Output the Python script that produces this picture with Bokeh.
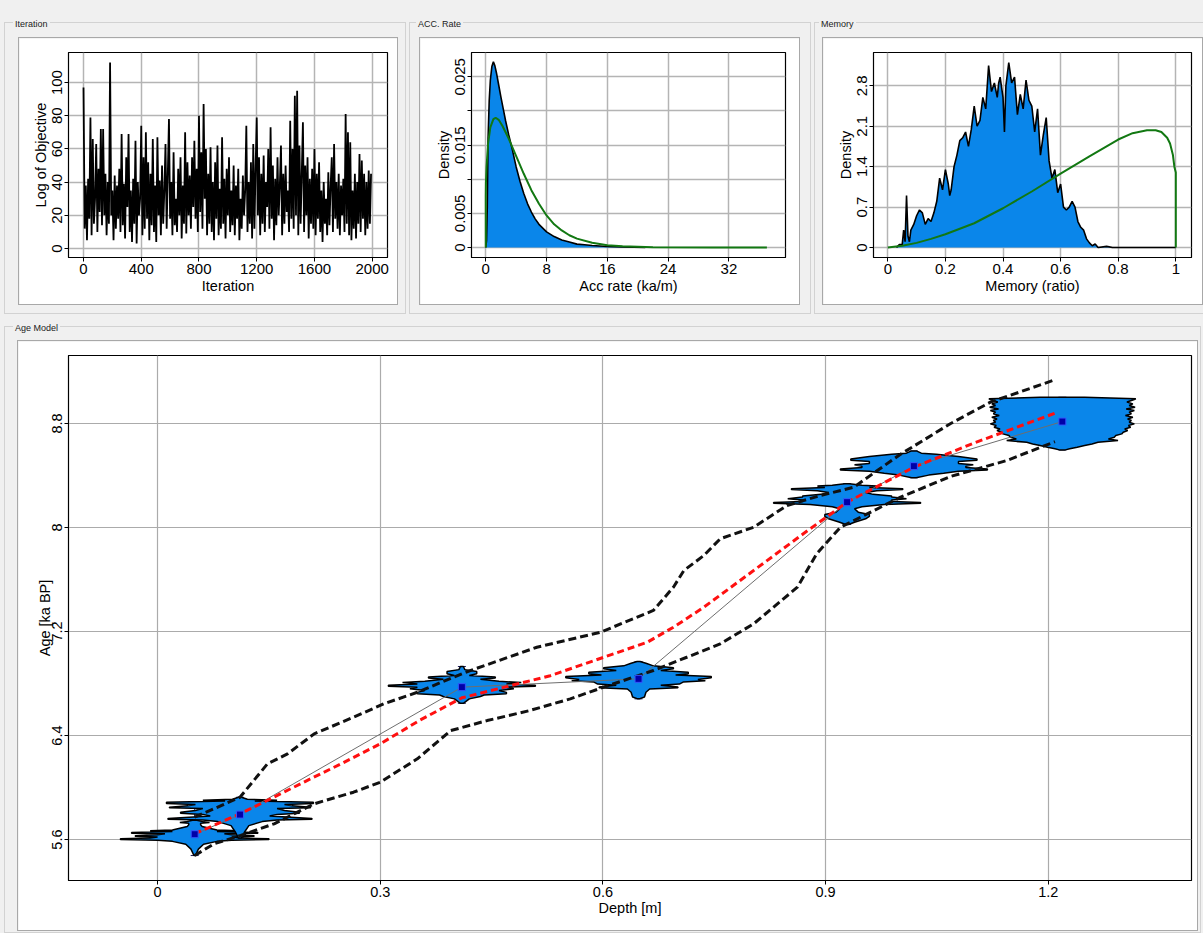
from bokeh.plotting import figure
from bokeh.layouts import column, row
from bokeh.models import (ColumnDataSource, Div, FixedTicker, Whisker, TeeHead,
                          GlobalInlineStyleSheet)
from bokeh.embed import file_html
from bokeh.resources import INLINE

# ---- Iteration trace (log of objective), one value per 8 iterations ----
iter_x = list(range(0, 2000, 8))
iter_y = [
    97, 12, 38, 5, 42, 18, 79, 8, 66, 15,
    30, 63, 10, 48, 22, 72, 14, 72, 20, 45,
    8, 40, 15, 112, 20, 35, 5, 44, 12, 38,
    18, 48, 10, 69, 14, 39, 6, 55, 25, 69,
    10, 35, 4, 42, 15, 65, 3, 40, 20, 30,
    74, 8, 55, 12, 70, 18, 52, 5, 45, 14,
    66, 10, 38, 4, 67, 20, 41, 8, 50, 15,
    35, 63, 12, 45, 78, 18, 40, 8, 58, 14,
    30, 10, 48, 20, 55, 6, 38, 15, 70, 9,
    52, 20, 44, 12, 55, 25, 65, 18, 48, 10,
    80, 22, 58, 12, 87, 30, 60, 8, 45, 15,
    61, 10, 40, 5, 52, 18, 62, 8, 36, 12,
    67, 15, 42, 6, 48, 20, 55, 10, 35, 14,
    50, 8, 38, 18, 48, 5, 30, 12, 44, 20,
    35, 74, 10, 40, 15, 52, 6, 63, 12, 48,
    79, 20, 55, 8, 45, 15, 56, 10, 40, 25,
    60, 12, 73, 18, 50, 5, 42, 14, 55, 20,
    38, 62, 8, 45, 15, 50, 22, 35, 10, 77,
    18, 60, 12, 92, 20, 95, 8, 62, 15, 45,
    76, 10, 50, 20, 55, 6, 42, 15, 48, 12,
    60, 8, 45, 18, 52, 10, 35, 4, 40, 15,
    30, 8, 46, 14, 38, 55, 10, 63, 18, 40,
    12, 45, 8, 38, 20, 42, 10, 81, 15, 70,
    8, 64, 5, 35, 12, 45, 6, 40, 15, 57,
    10, 53, 18, 45, 8, 40, 12, 47, 15, 45,
]
iter_xticks = [0, 400, 800, 1200, 1600, 2000]
iter_yticks = [0, 20, 40, 60, 80, 100]

# ---- Accumulation rate: posterior histogram and prior ----
acc_x = [0, 0.1, 0.2, 0.3, 0.45, 0.6, 0.8, 1.0, 1.2, 1.4, 1.7, 2.0, 2.3, 2.6, 3.0,
         3.5, 4.0, 4.5, 5.0, 5.5, 6.0, 6.5, 7.0, 8.0, 9.0, 10.0, 11.0, 12.0,
         13.0, 14.0, 16.0, 18.0, 21.0]
acc_d = [0, 0.001, 0.006, 0.016, 0.0215, 0.0245, 0.0265, 0.0272, 0.0266, 0.0256,
         0.0238, 0.0220, 0.0203, 0.0186, 0.0166, 0.0143, 0.0118, 0.0097, 0.0079,
         0.0064, 0.0052, 0.0042, 0.0034, 0.0023, 0.0016, 0.0011, 0.0008, 0.0005,
         0.0004, 0.0003, 0.00015, 0.00008, 0.00003]
acc_prior_x = [0, 0, 0.02, 0.1, 0.3, 0.6, 1.0, 1.3, 1.7, 2.2, 3.0, 4.0, 5.0, 6.0,
               7.0, 8.0, 9.0, 10.0, 11.0, 12.0, 14.0, 16.0, 18.0, 22.0, 30.0, 37.0]
acc_prior_d = [0, 0.0075, 0.0095, 0.0118, 0.0152, 0.0176, 0.0188, 0.0190, 0.0187,
               0.0178, 0.0160, 0.0134, 0.0108, 0.0084, 0.0064, 0.0047, 0.0034,
               0.0025, 0.0018, 0.0013, 0.0007, 0.00035, 0.00018, 0.00005,
               0.00001, 0]
acc_xticks = [0, 8, 16, 24, 32]
acc_yticks = [0, 0.005, 0.01, 0.015, 0.02, 0.025]
acc_ylabels = ["0", "0.005", "", "0.015", "", "0.025"]

# ---- Memory: posterior histogram and prior ----
mem_x = [0.03, 0.04, 0.05, 0.055, 0.06, 0.065, 0.07, 0.075, 0.08, 0.09, 0.10, 0.11,
         0.12, 0.13, 0.14, 0.15, 0.16, 0.17, 0.18, 0.19, 0.20, 0.21, 0.215, 0.22,
         0.23, 0.24, 0.25, 0.26, 0.27, 0.28, 0.29, 0.30, 0.31, 0.32, 0.33, 0.34,
         0.35, 0.36, 0.37, 0.38, 0.385, 0.39, 0.40, 0.405, 0.41, 0.42, 0.43, 0.44,
         0.45, 0.46, 0.47, 0.48, 0.49, 0.50, 0.51, 0.52, 0.53, 0.54, 0.55, 0.56,
         0.57, 0.58, 0.59, 0.60, 0.61, 0.62, 0.63, 0.64, 0.65, 0.66, 0.67, 0.68,
         0.69, 0.70, 0.71, 0.72, 0.73, 0.76, 0.78, 1.0]
mem_d = [0, 0.05, 0.05, 0.3, 0.1, 0.9, 0.2, 0.1, 0.3, 0.4, 0.55, 0.65,
         0.6, 0.4, 0.5, 0.45, 0.6, 0.8, 1.2, 1.0, 1.35, 1.1, 0.9, 1.0,
         1.4, 1.6, 1.85, 1.9, 2.0, 1.75, 2.05, 2.45, 2.1, 2.2, 2.6, 2.4,
         3.15, 2.7, 2.85, 2.6, 2.85, 2.95, 2.6, 2.0, 2.8, 3.2, 2.85, 2.95,
         2.3, 2.65, 2.4, 2.9, 2.55, 2.45, 2.0, 2.4, 1.6, 1.95, 2.25, 1.5,
         1.2, 1.35, 0.95, 1.1, 0.7, 0.65, 0.7, 0.8, 0.7, 0.45, 0.35, 0.3,
         0.15, 0.08, 0.03, 0.06, 0.0, 0.02, 0, 0]
mem_prior_x = [0, 0.05, 0.1, 0.15, 0.2, 0.3, 0.4, 0.5, 0.6, 0.7, 0.8, 0.85, 0.9,
               0.93, 0.95, 0.97, 0.98, 0.99, 0.995, 1.0, 1.0]
mem_prior_d = [0, 0.03, 0.08, 0.15, 0.23, 0.42, 0.68, 0.97, 1.28, 1.58, 1.87, 1.98,
               2.03, 2.03, 2.0, 1.9, 1.8, 1.6, 1.4, 1.3, 0]
mem_xticks = [0, 0.2, 0.4, 0.6, 0.8, 1]
mem_xlabels = ["0", "0.2", "0.4", "0.6", "0.8", "1"]
mem_yticks = [0, 0.7, 1.4, 2.1, 2.8]
mem_ylabels = ["0", "0.7", "1.4", "2.1", "2.8"]

# ---- Age model ----
sample_depth = [0.050, 0.111, 0.410, 0.648, 0.929, 1.019, 1.219]
sample_age = [5.641, 5.792, 6.772, 6.836, 8.195, 8.472, 8.815]
err_top = [5.846, 5.925, 6.931, 6.969, 8.337, 8.588, 9.002]
err_bottom = [5.477, 5.612, 6.648, 6.682, 8.023, 8.383, 8.597]

# calibrated age densities: age offset from the sample age, half width in metres
violin_dy = [
    [0.108, 0.095, 0.090, 0.084, 0.072, 0.060, 0.046, 0.032, 0.026, 0.020, 0.013,
     0.008, 0.003, -0.005, -0.012, -0.016, -0.022, -0.030, -0.035, -0.041, -0.046,
     -0.055, -0.077, -0.115, -0.164],
    [0.133, 0.118, 0.110, 0.104, 0.095, 0.085, 0.078, 0.067, 0.057, 0.052, 0.046,
     0.031, 0.018, 0.010, 0.000, -0.010, -0.030, -0.036, -0.042, -0.054, -0.085,
     -0.136, -0.180],
    [0.159, 0.135, 0.120, 0.103, 0.090, 0.078, 0.070, 0.060, 0.045, 0.035, 0.025,
     0.014, 0.008, 0.000, -0.012, -0.025, -0.040, -0.050, -0.060, -0.072, -0.090,
     -0.124],
    [0.133, 0.120, 0.100, 0.085, 0.077, 0.065, 0.050, 0.040, 0.030, 0.018, 0.008,
     -0.005, -0.015, -0.025, -0.040, -0.050, -0.062, -0.069, -0.078, -0.103,
     -0.140, -0.154],
    [0.142, 0.130, 0.124, 0.112, 0.103, 0.097, 0.088, 0.075, 0.060, 0.048, 0.040,
     0.026, 0.016, 0.006, -0.002, -0.008, -0.018, -0.035, -0.051, -0.077, -0.095,
     -0.110, -0.128, -0.154, -0.172],
    [0.116, 0.100, 0.091, 0.075, 0.055, 0.046, 0.035, 0.020, 0.010, 0.000, -0.010,
     -0.022, -0.030, -0.040, -0.055, -0.069, -0.089],
    [0.187, 0.175, 0.167, 0.150, 0.136, 0.123, 0.110, 0.097, 0.085, 0.072,
     0.059, 0.046, 0.033, 0.020, 0.008, -0.005, -0.018, -0.031, -0.044, -0.057,
     -0.069, -0.082, -0.095, -0.108, -0.121, -0.134, -0.146, -0.160, -0.172,
     -0.185, -0.198, -0.210, -0.218],
]
violin_hw = [
    [0.003, 0.012, 0.020, 0.008, 0.008, 0.010, 0.020, 0.030, 0.060, 0.030, 0.085,
     0.085, 0.040, 0.050, 0.080, 0.080, 0.050, 0.060, 0.100, 0.100, 0.050,
     0.030, 0.012, 0.005, 0.001],
    [0.002, 0.010, 0.050, 0.020, 0.099, 0.099, 0.060, 0.070, 0.095, 0.095, 0.050,
     0.060, 0.080, 0.080, 0.050, 0.040, 0.097, 0.097, 0.050, 0.030, 0.012,
     0.006, 0.002],
    [0.002, 0.004, 0.020, 0.020, 0.010, 0.045, 0.045, 0.025, 0.050, 0.080, 0.060,
     0.099, 0.099, 0.060, 0.070, 0.050, 0.060, 0.060, 0.030, 0.025, 0.010,
     0.002],
    [0.002, 0.010, 0.020, 0.047, 0.047, 0.030, 0.067, 0.067, 0.050, 0.098, 0.098,
     0.080, 0.090, 0.060, 0.055, 0.030, 0.053, 0.053, 0.015, 0.010, 0.008,
     0.001],
    [0.003, 0.020, 0.040, 0.030, 0.075, 0.075, 0.040, 0.025, 0.035, 0.060, 0.060,
     0.080, 0.060, 0.060, 0.099, 0.099, 0.050, 0.020, 0.010, 0.015, 0.030,
     0.030, 0.025, 0.010, 0.002],
    [0.004, 0.010, 0.030, 0.060, 0.085, 0.085, 0.060, 0.060, 0.080, 0.070, 0.070,
     0.099, 0.099, 0.060, 0.040, 0.020, 0.003],
    [0.030, 0.099, 0.096, 0.087, 0.095, 0.090, 0.098, 0.086, 0.097, 0.090,
     0.093, 0.085, 0.095, 0.088, 0.093, 0.090, 0.097, 0.089, 0.092, 0.084,
     0.088, 0.082, 0.080, 0.072, 0.070, 0.062, 0.075, 0.048, 0.040, 0.030,
     0.020, 0.010, 0.004],
]

median_depth = [0.050, 0.111, 0.143, 0.200, 0.250, 0.300, 0.354, 0.410, 0.480, 0.529,
                0.601, 0.660, 0.695, 0.736, 0.803, 0.870, 0.929, 1.019, 1.100, 1.209]
median_age = [5.644, 5.798, 5.887, 6.050, 6.190, 6.336, 6.520, 6.690, 6.790, 6.860,
              7.002, 7.118, 7.233, 7.387, 7.669, 7.952, 8.195, 8.464, 8.650, 8.879]
upper_depth = [0.050, 0.111, 0.148, 0.175, 0.211, 0.264, 0.305, 0.350, 0.415, 0.511,
               0.597, 0.668, 0.695, 0.709, 0.736, 0.758, 0.803, 0.848, 0.893, 0.938,
               1.000, 1.068, 1.122, 1.209]
upper_age = [5.772, 5.925, 6.182, 6.259, 6.413, 6.541, 6.644, 6.733, 6.887, 7.079,
             7.195, 7.362, 7.541, 7.669, 7.785, 7.913, 8.002, 8.169, 8.246, 8.310,
             8.560, 8.798, 8.964, 9.136]
lower_depth = [0.050, 0.076, 0.112, 0.157, 0.211, 0.264, 0.300, 0.350, 0.395, 0.444,
               0.500, 0.556, 0.601, 0.668, 0.713, 0.758, 0.803, 0.862, 0.888, 0.920,
               0.947, 1.001, 1.068, 1.144, 1.209]
lower_age = [5.477, 5.567, 5.631, 5.721, 5.875, 5.964, 6.041, 6.221, 6.438, 6.515,
             6.590, 6.682, 6.772, 6.900, 7.002, 7.105, 7.259, 7.541, 7.798, 8.002,
             8.079, 8.233, 8.392, 8.515, 8.660]
age_xticks = [0, 0.3, 0.6, 0.9, 1.2]
age_xlabels = ["0", "0.3", "0.6", "0.9", "1.2"]
age_yticks = [5.6, 6.4, 7.2, 8, 8.8]
age_ylabels = ["5.6", "6.4", "7.2", "8", "8.8"]

FONT = "Liberation Sans"
BLUE = "#0a86ea"
GREEN = "#127812"
GUI = "#f0f0f0"


def style(p, xticks, yticks, xlabels=None, ylabels=None, fs="15px", lfs="14.5px",
          grid_color="#b4b4b4", grid_width=1.5, tick=4):
    p.xaxis.ticker = FixedTicker(ticks=xticks)
    p.yaxis.ticker = FixedTicker(ticks=yticks)
    if xlabels:
        p.xaxis.major_label_overrides = dict(zip(xticks, xlabels))
    if ylabels:
        p.yaxis.major_label_overrides = dict(zip(yticks, ylabels))
    p.yaxis.major_label_orientation = "vertical"
    for ax in (p.xaxis, p.yaxis):
        ax.major_label_text_font = FONT
        ax.major_label_text_font_size = fs
        ax.major_label_text_color = "black"
        ax.axis_label_text_font = FONT
        ax.axis_label_text_font_size = lfs
        ax.axis_label_text_font_style = "normal"
        ax.axis_label_text_color = "black"
        ax.axis_line_color = "black"
        ax.major_tick_line_color = "black"
        ax.major_tick_out = tick
        ax.major_tick_in = 0
        ax.minor_tick_line_color = None
        ax.major_label_standoff = 2
        ax.axis_label_standoff = 1
    p.grid.grid_line_color = grid_color
    p.grid.grid_line_width = grid_width
    p.outline_line_color = "black"
    p.outline_line_width = 1.2


def panel(w, h, xr, yr, left, right, top, bottom, ml):
    return figure(width=w, height=h, x_range=xr, y_range=yr, output_backend="svg",
                  toolbar_location=None, min_border_left=left, min_border_right=right,
                  min_border_top=top, min_border_bottom=bottom,
                  border_fill_color="white", background_fill_color="white",
                  margin=(0, 0, 0, ml), styles={"outline": "1px solid #a8a8a8"})


def group(label, fig, w, h, lab_h, lab_left, top_margin, left_margin):
    lab = Div(text=('<span style="position:relative;top:-8px;padding:0 2px;'
                    'background-color:%s;font-family:\'Liberation Sans\';'
                    'font-size:9px;color:#222;white-space:nowrap;">%s</span>')
              % (GUI, label),
              width=120, height=lab_h, margin=(0, 0, 0, lab_left))
    return column(lab, fig, width=w, height=h, margin=(top_margin, 0, 0, left_margin),
                  styles={"outline": "1px solid #d2d2d2", "background-color": GUI})


# Iteration
p1 = panel(378, 266, (-104, 2106), (-5.4, 118.1), 49, 10, 14, 47, 14)
p1.line(iter_x, iter_y, line_color="black", line_width=1.8)
style(p1, iter_xticks, iter_yticks)
p1.xaxis.axis_label = "Iteration"
p1.yaxis.axis_label = "Log of Objective"

# Acc rate
p2 = panel(379, 266, (-1.88, 39.45), (-0.00146, 0.02856), 51, 14, 14, 47, 10)
p2.varea(x=acc_x, y1=0, y2=acc_d, fill_color=BLUE)
p2.line(acc_x, acc_d, line_color="black", line_width=1.6)
p2.line(acc_prior_x, acc_prior_d, line_color=GREEN, line_width=2)
style(p2, acc_xticks, acc_yticks, ylabels=acc_ylabels)
p2.xaxis.axis_label = "Acc rate (ka/m)"
p2.yaxis.axis_label = "Density"

# Memory
p3 = panel(379, 266, (-0.0497, 1.0545), (-0.173, 3.377), 50, 11, 14, 47, 8)
p3.varea(x=mem_x, y1=0, y2=mem_d, fill_color=BLUE)
p3.line(mem_x, mem_d, line_color="black", line_width=1.6)
p3.line(mem_prior_x, mem_prior_d, line_color=GREEN, line_width=2)
style(p3, mem_xticks, mem_yticks, xlabels=mem_xlabels, ylabels=mem_ylabels)
p3.xaxis.axis_label = "Memory (ratio)"
p3.yaxis.axis_label = "Density"

# Age model
p4 = panel(1179, 589, (-0.120, 1.393), (5.285, 9.323), 50, 6, 14, 50, 13)
vx, vy = [], []
for d, a, dys, hws in zip(sample_depth, sample_age, violin_dy, violin_hw):
    ys = [a + dy for dy in dys]
    vx.append([d + hw for hw in hws] + [d - hw for hw in reversed(hws)])
    vy.append(ys + ys[::-1])
p4.patches(vx, vy, fill_color=BLUE, line_color="black", line_width=1.5)
p4.line(sample_depth, sample_age, line_color="#6e6e6e", line_width=1)
err = ColumnDataSource(dict(d=sample_depth, top=err_top, bottom=err_bottom))
p4.add_layout(Whisker(source=err, base="d", upper="top", lower="bottom",
                      dimension="height", line_color="#1c1c5c", line_width=1,
                      upper_head=TeeHead(size=8, line_color="#1c1c5c", line_width=1),
                      lower_head=TeeHead(size=8, line_color="#1c1c5c", line_width=1)))
p4.line(upper_depth, upper_age, line_color="#111111", line_width=3, line_dash="8 4")
p4.line(lower_depth, lower_age, line_color="#111111", line_width=3, line_dash="8 4")
p4.line(median_depth, median_age, line_color="#ff1010", line_width=3, line_dash="7 4")
p4.scatter(sample_depth, sample_age, marker="square", size=7,
           fill_color="#0000a8", line_color="#3355ff", line_width=1)
style(p4, age_xticks, age_yticks, xlabels=age_xlabels, ylabels=age_ylabels,
      fs="14.5px", lfs="14.5px", grid_color="#ababab", grid_width=1.2, tick=4)
p4.xaxis.axis_label = "Depth [m]"
p4.yaxis.axis_label = "Age [ka BP]"
p4.xaxis.axis_label_standoff = 0
p4.yaxis.axis_label_standoff = -3

g1 = group("Iteration", p1, 400, 290, 15, 8, 0, 5)
g2 = group("ACC. Rate", p2, 400, 290, 15, 6, 0, 5)
g3 = group("Memory", p3, 388, 290, 15, 4, 0, 5)
top = row(g1, g2, g3, margin=(23, 0, 0, 0))
g4 = group("Age Model", p4, 1195, 605, 14, 8, 14, 5)

root = column(top, g4, width=1203, height=933, styles={"background-color": GUI})
root.stylesheets = [GlobalInlineStyleSheet(css="body { background-color: #f0f0f0; }")]

open("out.html", "w").write(file_html(root, INLINE, title="Age model"))
